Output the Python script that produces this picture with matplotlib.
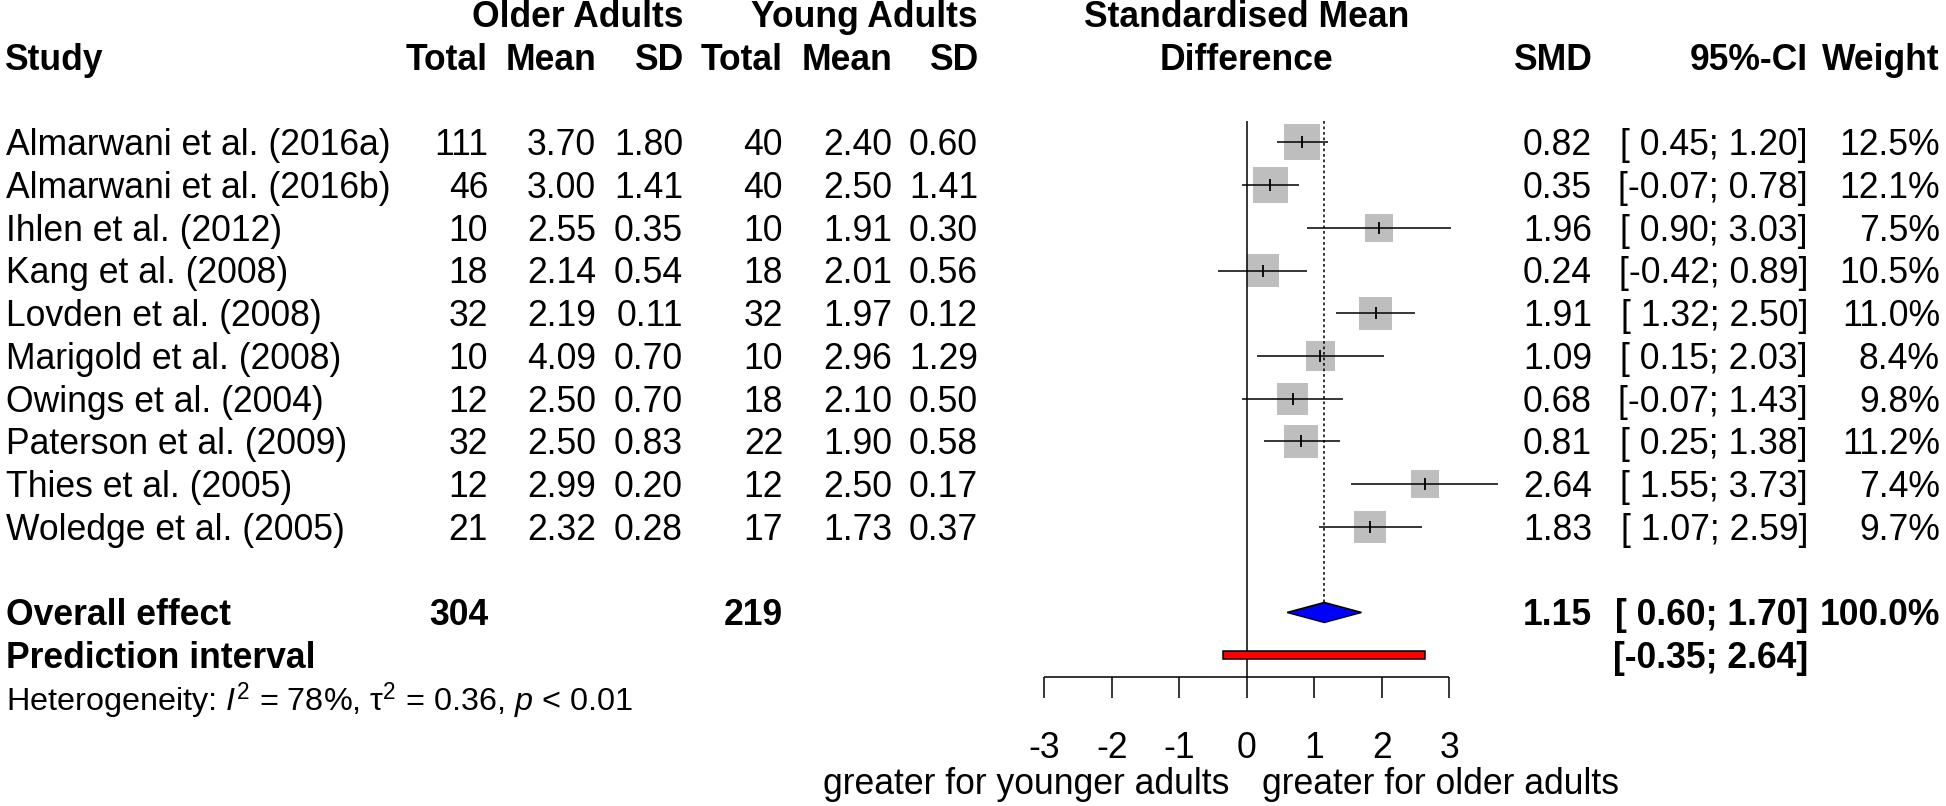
import matplotlib
matplotlib.use("Agg")
import matplotlib.pyplot as plt
from matplotlib import font_manager
from matplotlib.transforms import blended_transform_factory
import numpy as np

# ---------------- data ----------------
studies = ["Almarwani et al. (2016a)", "Almarwani et al. (2016b)", "Ihlen et al. (2012)",
           "Kang et al. (2008)", "Lovden et al. (2008)", "Marigold et al. (2008)",
           "Owings et al. (2004)", "Paterson et al. (2009)", "Thies et al. (2005)",
           "Woledge et al. (2005)"]
old_total = [111, 46, 10, 18, 32, 10, 12, 32, 12, 21]
old_mean = [3.70, 3.00, 2.55, 2.14, 2.19, 4.09, 2.50, 2.50, 2.99, 2.32]
old_sd = [1.80, 1.41, 0.35, 0.54, 0.11, 0.70, 0.70, 0.83, 0.20, 0.28]
young_total = [40, 40, 10, 18, 32, 10, 18, 22, 12, 17]
young_mean = [2.40, 2.50, 1.91, 2.01, 1.97, 2.96, 2.10, 1.90, 2.50, 1.73]
young_sd = [0.60, 1.41, 0.30, 0.56, 0.12, 1.29, 0.50, 0.58, 0.17, 0.37]
smd = [0.82, 0.35, 1.96, 0.24, 1.91, 1.09, 0.68, 0.81, 2.64, 1.83]
ci_lo = [0.45, -0.07, 0.90, -0.42, 1.32, 0.15, -0.07, 0.25, 1.55, 1.07]
ci_hi = [1.20, 0.78, 3.03, 0.89, 2.50, 2.03, 1.43, 1.38, 3.73, 2.59]
weight = [12.5, 12.1, 7.5, 10.5, 11.0, 8.4, 9.8, 11.2, 7.4, 9.7]

overall_old_total = 304
overall_young_total = 219
overall_smd = 1.15
overall_lo = 0.60
overall_hi = 1.70
overall_weight = 100.0
pred_lo = -0.35
pred_hi = 2.64
het_text = r"Heterogeneity: $I^2$ = 78%, τ$^2$ = 0.36, $p$ < 0.01"
xticks = [-3, -2, -1, 0, 1, 2, 3]
label_left = "greater for younger adults"
label_right = "greater for older adults"

# ---------------- fonts ----------------
names = {f.name for f in font_manager.fontManager.ttflist}
REG = "Liberation Sans" if "Liberation Sans" in names else "DejaVu Sans"
FS = 25.6
plt.rcParams["mathtext.fontset"] = "custom"
plt.rcParams["mathtext.rm"] = REG
plt.rcParams["mathtext.it"] = REG + ":italic"
plt.rcParams["mathtext.bf"] = REG + ":bold"
BOLD = dict(family=REG, weight="bold", fontsize=FS)
REGF = dict(family=REG, fontsize=FS)

# ---------------- figure / axes ----------------
W, H = 1946, 806
fig = plt.figure(figsize=(W / 100, H / 100), dpi=100)
ax = fig.add_axes([0, 0, 1, 1])
x0_px, ux = 1246.7, 67.5       # pixel of x=0, pixels per unit
y0_px, uy = 142.3, 42.74       # pixel of row 0, pixels per row
ax.set_xlim(-x0_px / ux, (W - x0_px) / ux)
ax.set_ylim((H - y0_px) / uy, -y0_px / uy)
ax.axis("off")

tr = blended_transform_factory(fig.transFigure, ax.transData)

def px(x):
    return x / W

BL = 0.30  # baseline offset from row centre

n = len(studies)
rows = np.arange(n)

# column right edges (pixels)
c_ot, c_om, c_os = 488, 596, 683
c_yt, c_ym, c_ys = 783, 892, 978
c_smd, c_ci, c_w = 1592, 1808, 1940
c_study = 6

# headers
ax.text(px(c_os), -3 + BL, "Older Adults", transform=tr, ha="right", va="baseline", **BOLD)
ax.text(px(c_ys), -3 + BL, "Young Adults", transform=tr, ha="right", va="baseline", **BOLD)
ax.text(0, -3 + BL, "Standardised Mean", ha="center", va="baseline", **BOLD)
ax.text(0, -2 + BL, "Difference", ha="center", va="baseline", **BOLD)
ax.text(px(4), -2 + BL, "Study", transform=tr, ha="left", va="baseline", **BOLD)
for c, lab in [(c_ot, "Total"), (c_om, "Mean"), (c_os, "SD"), (c_yt, "Total"),
               (c_ym, "Mean"), (c_ys, "SD"), (c_smd, "SMD"), (c_ci, "95%-CI"), (c_w, "Weight")]:
    ax.text(px(c), -2 + BL, lab, transform=tr, ha="right", va="baseline", **BOLD)

# study rows
for i in range(n):
    y = rows[i] + BL
    ax.text(px(c_study), y, studies[i], transform=tr, ha="left", va="baseline", **REGF)
    ax.text(px(c_ot), y, f"{old_total[i]}", transform=tr, ha="right", va="baseline", **REGF)
    ax.text(px(c_om), y, f"{old_mean[i]:.2f}", transform=tr, ha="right", va="baseline", **REGF)
    ax.text(px(c_os), y, f"{old_sd[i]:.2f}", transform=tr, ha="right", va="baseline", **REGF)
    ax.text(px(c_yt), y, f"{young_total[i]}", transform=tr, ha="right", va="baseline", **REGF)
    ax.text(px(c_ym), y, f"{young_mean[i]:.2f}", transform=tr, ha="right", va="baseline", **REGF)
    ax.text(px(c_ys), y, f"{young_sd[i]:.2f}", transform=tr, ha="right", va="baseline", **REGF)
    ax.text(px(c_smd), y, f"{smd[i]:.2f}", transform=tr, ha="right", va="baseline", **REGF)
    ax.text(px(c_ci), y, f"[{ci_lo[i]:5.2f}; {ci_hi[i]:4.2f}]", transform=tr, ha="right", va="baseline", **REGF)
    ax.text(px(c_w), y, f"{weight[i]:.1f}%", transform=tr, ha="right", va="baseline", **REGF)

# overall / prediction rows
r_ov, r_pi, r_het = n + 1, n + 2, n + 3
ax.text(px(c_study), r_ov + BL, "Overall effect", transform=tr, ha="left", va="baseline", **BOLD)
ax.text(px(c_ot), r_ov + BL, f"{overall_old_total}", transform=tr, ha="right", va="baseline", **BOLD)
ax.text(px(c_yt), r_ov + BL, f"{overall_young_total}", transform=tr, ha="right", va="baseline", **BOLD)
ax.text(px(c_smd), r_ov + BL, f"{overall_smd:.2f}", transform=tr, ha="right", va="baseline", **BOLD)
ax.text(px(c_ci), r_ov + BL, f"[{overall_lo:5.2f}; {overall_hi:4.2f}]", transform=tr, ha="right", va="baseline", **BOLD)
ax.text(px(c_w), r_ov + BL, f"{overall_weight:.1f}%", transform=tr, ha="right", va="baseline", **BOLD)
ax.text(px(c_study), r_pi + BL, "Prediction interval", transform=tr, ha="left", va="baseline", **BOLD)
ax.text(px(c_ci), r_pi + BL, f"[{pred_lo:5.2f}; {pred_hi:4.2f}]", transform=tr, ha="right", va="baseline", **BOLD)
ax.text(px(c_study), r_het + 0.32, het_text, transform=tr, ha="left", va="baseline",
        family=REG, fontsize=FS * 0.91)

# ---------------- forest ----------------
LW = 1.1
r_ax = n + 2.5
ax.vlines(0, -0.5, r_ax, color="black", lw=LW, zorder=3)
ax.vlines(overall_smd, -0.5, r_ov - 0.234, color="black", lw=LW, linestyles=(0, (1.8, 1.8)), zorder=3)
side_pt = 10.1 * 0.72 * np.sqrt(np.array(weight))
ax.scatter(smd, rows, s=side_pt ** 2, marker="s", color="#BEBEBE", linewidths=0, zorder=2)
ax.hlines(rows, ci_lo, ci_hi, color="black", lw=LW, zorder=4)
ax.scatter(smd, rows, s=70, marker="|", color="black", linewidths=LW * 1.2, zorder=5)

# diamond
dh = 0.234
ax.fill([overall_lo, overall_smd, overall_hi, overall_smd],
        [r_ov, r_ov - dh, r_ov, r_ov + dh], facecolor="#0000FF", edgecolor="black", lw=LW, zorder=5)
# prediction interval
ph = 0.09
ax.fill([pred_lo, pred_hi, pred_hi, pred_lo],
        [r_pi - ph, r_pi - ph, r_pi + ph, r_pi + ph], facecolor="#FF0000", edgecolor="black", lw=LW, zorder=5)

# axis
ax.hlines(r_ax, xticks[0], xticks[-1], color="black", lw=LW)
ax.vlines(xticks, r_ax, r_ax + 0.5, color="black", lw=LW)
for t in xticks:
    ax.text(t, r_ax + 1.9, f"{t}", ha="center", va="baseline", **REGF)
ax.text(-17 / ux, r_ax + 2.75, label_left, ha="right", va="baseline", **REGF)
ax.text(15 / ux, r_ax + 2.75, label_right, ha="left", va="baseline", **REGF)

fig.savefig("out.png", dpi=100)
